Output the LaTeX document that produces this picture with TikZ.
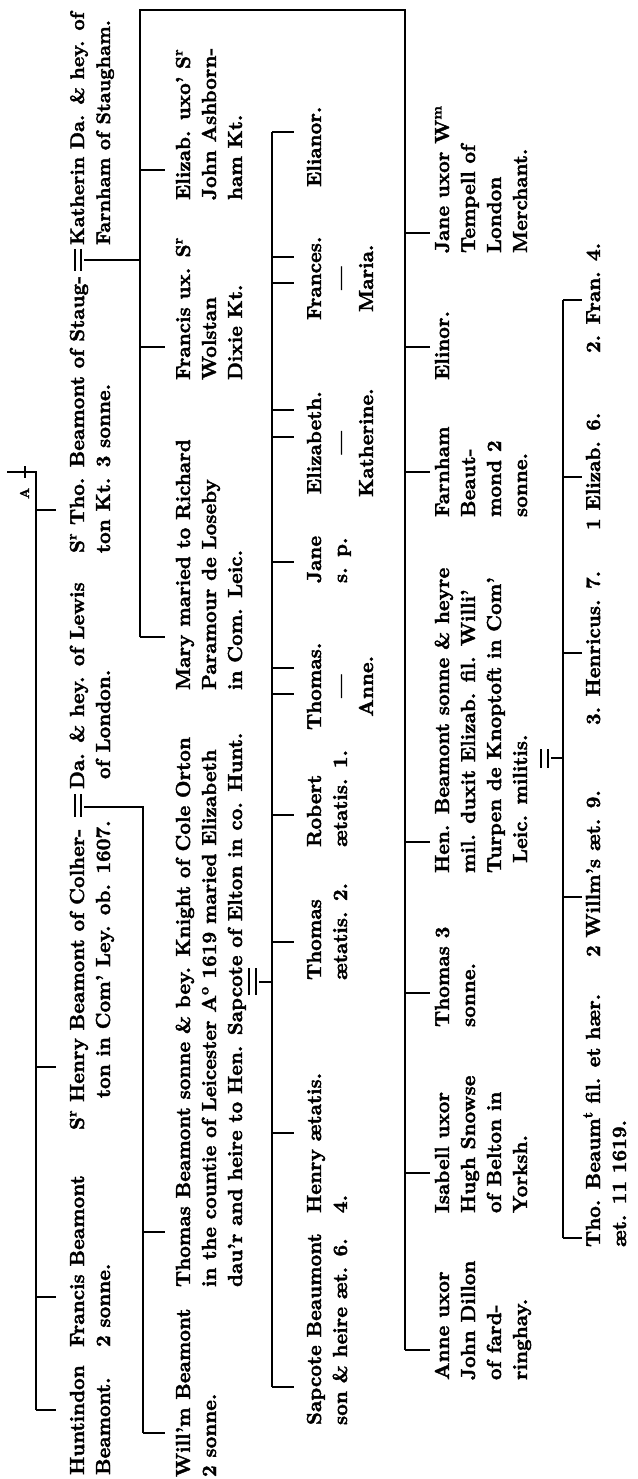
\documentclass[tikz,border=0pt]{standalone}
\usepackage{fontspec}
\setmainfont{lmroman10-regular.otf}[BoldFont=lmroman10-bold.otf, BoldFeatures={FakeBold=2}]
\tikzset{
  txt/.style={rotate=90, anchor=base west, inner sep=0pt, outer sep=0pt, font=\bfseries\fontsize{20.3}{26}\selectfont},
  rule/.style={line width=1.3pt, line cap=butt},
}
\newcommand\sps[1]{\textsuperscript{#1}}
\newcommand\tl[1]{\begin{tabular}[t]{@{}l@{}}#1\end{tabular}}
\newcommand\tc[1]{\begin{tabular}[t]{@{}c@{}}#1\end{tabular}}
\begin{document}
\begin{tikzpicture}[x=1pt,y=-1pt]
\useasboundingbox (0,0) rectangle (637,1479);
% ---------- generation 1 ----------
\node[txt] (hunt) at (84,1475) {\tl{Huntindon\\Beamont.}};
\node[txt] (fran) at (84,1347) {\tl{Francis Beamont\\2 sonne.}};
\node[txt] (hen1) at (84,1130) {S\sps{r} Henry Beamont of Colher-};
\node[txt] (hen2) at (110,1098) {ton in Com' Ley. ob. 1607.};
\node[txt] (da) at (84,789) {\tl{Da. \& hey. of Lewis\\\hspace*{10pt}of London.}};
\node[txt] (tho1) at (84,553) {\tl{S\sps{r} Tho. Beamont of Staug-\\ton Kt. 3 sonne.}};
\node[txt, font=\bfseries\fontsize{19.6}{26}\selectfont] (kath) at (84,245) {\tl{Katherin Da. \& hey. of\\Farnham of Staugham.}};
\node[txt, font=\bfseries\fontsize{13}{15}\selectfont] (amark) at (29,499) {A};
\coordinate (L0t) at (36,472); \coordinate (L0b) at (36,1410); \coordinate (stub) at (7,472);
\draw[rule] (stub) -- (L0t) -- (L0b);
\draw[rule] (25,466) -- (25,478);
\foreach \y in {1410,1297,1067,510} \draw[rule] (36,\y) -- (56,\y);
% marriages gen 1
\draw[rule] (75,794) -- (75,817) (81,794) -- (81,817);
\draw[rule] (75,249) -- (75,271) (81,249) -- (81,271);
% ---------- generation 2 ----------
\coordinate (L1a) at (143,807); \coordinate (L1b) at (143,1433);
\draw[rule] (84,807) -- (L1a) -- (L1b);
\foreach \y in {1433,1232} \draw[rule] (143,\y) -- (165,\y);
\coordinate (L1c) at (140,10); \coordinate (L1d) at (140,637); \coordinate (L3a) at (405,10); \coordinate (L3b) at (405,1350);
\draw[rule] (84,260) -- (140,260);
\draw[rule] (L1d) -- (L1c) -- (L3a) -- (L3b);
\foreach \y in {637,347,170} \draw[rule] (140,\y) -- (165,\y);
\node[txt] (willm) at (190,1477) {\tl{Will'm Beamont\\2 sonne.}};
\node[txt] (thomasB) at (190,1287) {\tl{Thomas Beamont sonne \& bey. Knight of Cole Orton\\in the countie of Leicester A\sps{o} 1619 maried Elizabeth\\dau'r and heire to Hen. Sapcote of Elton in co. Hunt.}};
\node[txt] (mary) at (190,690) {\tl{Mary maried to Richard\\Paramour de Loseby\\in Com. Leic.}};
\node[txt] (francis) at (190,380) {\tl{Francis ux. S\sps{r}\\Wolstan\\Dixie Kt.}};
\node[txt] (elizab) at (190,200) {\tl{Elizab. uxo' S\sps{r}\\John Ashborn-\\ham Kt.}};
% marriage gen 2
\draw[rule] (249,968) -- (249,995) (256,968) -- (256,995);
\draw[rule] (259,982) -- (272,982);
% ---------- generation 3 ----------
\coordinate (L2a) at (272,132); \coordinate (L2b) at (272,1387);
\draw[rule] (L2a) -- (L2b);
\foreach \y in {1387,1133,942,815,694,668,562,437,410,283,257,132} \draw[rule] (272,\y) -- (294,\y);
\node[txt] (sapcote) at (321,1425) {\tl{Sapcote Beaumont\\son \& heire æt. 6.}};
\node[txt] (henry) at (321,1213) {\tl{Henry ætatis.\\4.}};
\node[txt] (thomas2) at (321,980) {\tl{Thomas\\ætatis. 2.}};
\node[txt] (robert) at (321,847) {\tl{Robert\\ætatis. 1.}};
\node[txt] (thomasT) at (321,730) {\tc{Thomas.\\—\\Anne.}};
\node[txt] (jane) at (321,583) {\tl{Jane\\s. p.}};
\node[txt] (elizT) at (321,497) {\tc{Elizabeth.\\—\\Katherine.}};
\node[txt] (franT) at (321,320) {\tc{Frances.\\—\\Maria.}};
\node[txt] (elianor) at (321,187) {Elianor.};
% ---------- generation 4 ----------
\foreach \y in {1350,1173,993,842,472,347,233} \draw[rule] (405,\y) -- (430,\y);
\node[txt] (anne) at (449,1380) {\tl{Anne uxor\\John Dillon\\of fard-\\ringhay.}};
\node[txt] (isabell) at (449,1213) {\tl{Isabell uxor\\Hugh Snowse\\of Belton in\\Yorksh.}};
\node[txt] (thomas3) at (449,1027) {\tl{Thomas 3\\sonne.}};
\node[txt] (hen) at (449,873) {\tl{Hen. Beamont sonne \& heyre\\mil. duxit Elizab. fil. Willi'\\Turpen de Knoptoft in Com'\\\hspace*{10pt}Leic. militis.}};
\node[txt] (farnham) at (449,517) {\tl{Farnham\\Beaut-\\mond 2\\sonne.}};
\node[txt] (elinor) at (449,380) {Elinor.};
\node[txt] (janeW) at (449,253) {\tl{Jane uxor W\sps{m}\\Tempell of\\London\\Merchant.}};
% marriage gen 4
\draw[rule] (541,749) -- (541,768) (548,749) -- (548,768);
\draw[rule] (551,758) -- (563,758);
% ---------- generation 5 ----------
\coordinate (L4a) at (563,300); \coordinate (L4b) at (563,1238);
\draw[rule] (L4a) -- (L4b);
\foreach \y in {1238,897,653,477,300} \draw[rule] (563,\y) -- (582,\y);
\node[txt] (tho) at (600,1247) {\tl{Tho. Beaum\sps{t} fil. et hær.\\æt. 11 1619.}};
\node[txt] (willms) at (600,957) {2 Willm's æt. 9.};
\node[txt] (henricus) at (600,725) {3. Henricus. 7.};
\node[txt] (elizab6) at (600,530) {1 Elizab. 6.};
\node[txt] (fran4) at (600,353) {2. Fran. 4.};
\end{tikzpicture}
\end{document}
